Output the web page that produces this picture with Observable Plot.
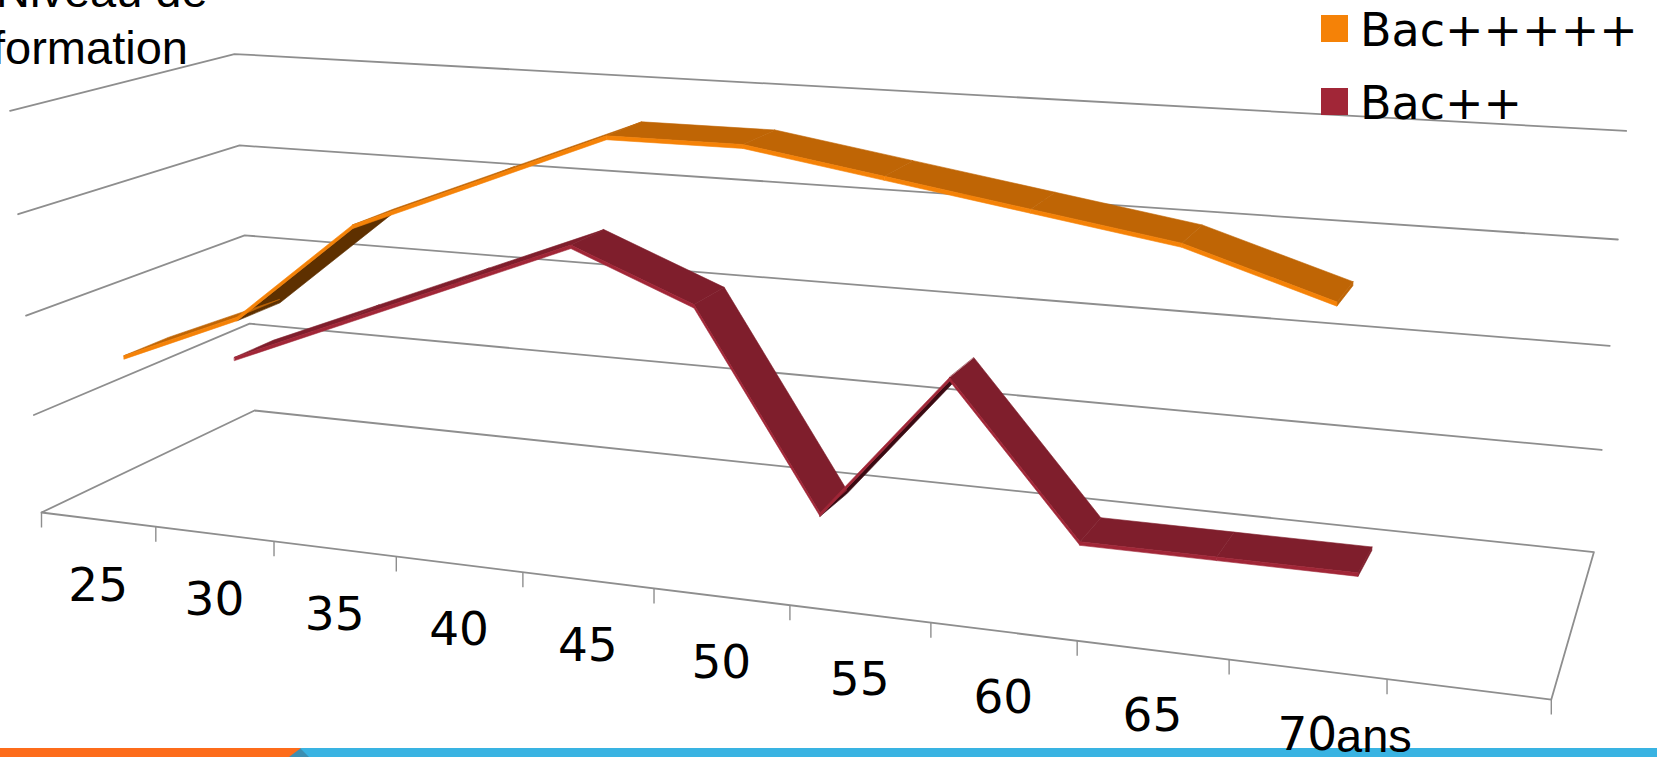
<!DOCTYPE html>
<html><head><meta charset="utf-8">
<style>
html,body{margin:0;padding:0;background:#fff;width:1657px;height:757px;overflow:hidden}
#chart{position:absolute;left:0;top:0}
.t{position:absolute;white-space:pre;color:#000;line-height:1}
.ar{font-family:"Liberation Sans",Arial,sans-serif;font-size:47px}
.dj{font-family:"DejaVu Sans",Verdana,sans-serif;font-size:46px}
.sw{position:absolute;width:27px;height:27px}
.band{position:absolute;top:748px;height:9px}
</style>
<script src="https://cdn.jsdelivr.net/npm/d3@7"></script>
<script src="https://cdn.jsdelivr.net/npm/@observablehq/plot@0.6"></script>
</head><body>
<div class="band" style="left:0;width:1657px;background:#39B3E2"></div>
<div class="band" style="left:0;width:309px;background:#3C8FB2;clip-path:polygon(0 0,291px 0,300px 0,309px 100%,0 100%)"></div>
<div class="band" style="left:0;width:301px;background:#FD6C1B;clip-path:polygon(0 0,100% 0,289px 100%,0 100%)"></div>
<div id="chart"></div>
<div class="t ar" style="left:-4px;top:-33px">Niveau de</div>
<div class="t ar" style="left:-8px;top:24px">formation</div>
<div class="sw" style="left:1321px;top:15px;background:#F58207"></div>
<div class="t dj" style="left:1360px;top:7px">Bac+++++</div>
<div class="sw" style="left:1321px;top:88px;background:#A12637"></div>
<div class="t dj" style="left:1360px;top:80px">Bac++</div>
<div class="t ar" style="left:1336px;top:712px">ans</div>
<script>
const ageLabels = ["25","30","35","40","45","50","55","60","65","70",""];
const bacPlus5 = [1.5,2,3,3.5,4,4,3.8,3.6,3.4,3];
const bacPlus2 = [1,1.5,2,2.5,2,0,1.5,0,0,0];
const levels = [1,2,3,4];

// 3-D perspective of the chart box: (category, level, depth) to page position
const origin=[41,512], vu=[-6798,-335.2], vv=[827,10560], vd=[1856,-357];
const au=-0.01644, av=-0.00961, ad=0.133;
function project(u,v,d){
  const w=1+au*u+av*v+ad*d;
  return [0,1].map(i=>(origin[i]+au*u*vu[i]+av*v*vv[i]+ad*d*vd[i])/w);
}
const nCat=ageLabels.length, thick=0.035;
const seriesDefs=[
  {values:bacPlus2,d1:0.655,d2:0.855,top:"red-top",front:"red-front",under:"red-under"},
  {values:bacPlus5,d1:0.157,d2:0.357,top:"or-top",front:"or-front",under:"or-under"}
];
const ribbonRow=(z,kind,a,b)=>({z,kind,x1:a[0],y1:a[1],x2:b[0],y2:b[1]});
const unders=[],tops=[],fronts=[],caps=[];
seriesDefs.forEach((s,si)=>{
  s.values.forEach((val,i)=>{
    const u=i+0.5;
    if(i===s.values.length-1){
      caps.push(ribbonRow(`c${si}`,s.top,project(u,val,s.d1),project(u,val,s.d2)));
      caps.push(ribbonRow(`c${si}`,s.top,project(u,val-thick,s.d1),project(u,val-thick,s.d2)));
      return;
    }
    const next=s.values[i+1], id=`${si}-${i}`;
    const q=[project(u,val,s.d1),project(u+1,next,s.d1),project(u+1,next,s.d2),project(u,val,s.d2)];
    const facingUp=d3.polygonArea(q)>0;
    const layer=facingUp?tops:unders;
    const kind=facingUp?s.top:s.under;
    const v0=facingUp?val:val-thick, v1=facingUp?next:next-thick;
    layer.push(ribbonRow(id,kind,project(u,v0,s.d1),project(u,v0,s.d2)));
    layer.push(ribbonRow(id,kind,project(u+1,v1,s.d1),project(u+1,v1,s.d2)));
    fronts.push(ribbonRow(id,s.front,project(u,val-thick,s.d1),project(u,val,s.d1)));
    fronts.push(ribbonRow(id,s.front,project(u+1,next-thick,s.d1),project(u+1,next,s.d1)));
  });
});
const gridRows=[];
levels.forEach(l=>{
  [[0,0],[0,1],[nCat,1]].forEach(([u,d])=>{const p=project(u,l,d);gridRows.push({g:l,x:p[0],y:p[1]});});
});
[[0,0],[0,1],[nCat,1],[nCat,0],[0,0]].forEach(([u,d])=>{const p=project(u,0,d);gridRows.push({g:0,x:p[0],y:p[1]});});
const tickRows=d3.range(nCat+1).map(u=>{const p=project(u,0,0);return {x:p[0],y:p[1]};});
const labelRows=ageLabels.map((t,i)=>{const p=project(i+0.5,0,0);return {t,x:p[0],y:p[1]};});
const area=rows=>Plot.area(rows,{x1:"x1",y1:"y1",x2:"x2",y2:"y2",z:"z",fill:"kind",stroke:"kind",strokeWidth:0.6});
const plot=Plot.plot({
  width:1657,height:757,margin:0,
  x:{domain:[0,1657],range:[0,1657],axis:null},
  y:{domain:[0,757],range:[0,757],axis:null},
  color:{domain:["or-top","or-front","or-under","red-top","red-front","red-under"],
         range:["#BF6505","#F58207","#5E3000","#7F1E2C","#A12637","#3A0A12"]},
  style:{background:"transparent"},
  marks:[
    Plot.line(gridRows,{x:"x",y:"y",z:"g",stroke:"#8E8E8E",strokeWidth:1.8}),
    Plot.link(tickRows,{x1:"x",y1:"y",x2:"x",y2:d=>d.y+15,stroke:"#8E8E8E",strokeWidth:1.4}),
    area(unders),area(tops),area(caps),area(fronts),
    Plot.text(labelRows,{x:"x",y:"y",text:"t",dy:66,fontSize:47,fontFamily:"DejaVu Sans",fill:"#000"})
  ]
});
document.getElementById("chart").appendChild(plot);
</script>
</body></html>
